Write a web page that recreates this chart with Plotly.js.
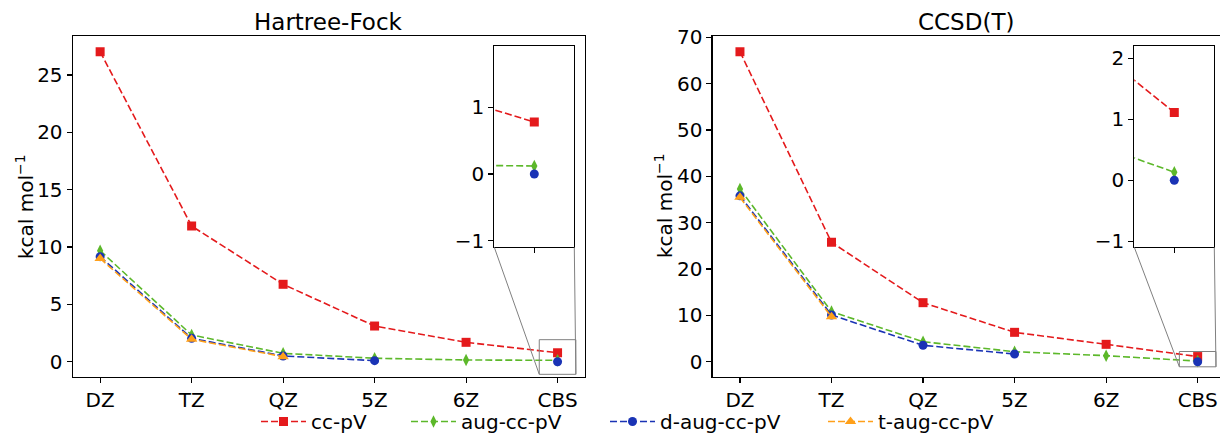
<!DOCTYPE html>
<html>
<head>
<meta charset="utf-8">
<script src="https://cdn.plot.ly/plotly-3.0.1.min.js"></script>
<style>
  html, body { margin: 0; padding: 0; background: #fff; }
  #chart { width: 1220px; height: 441px; }
</style>
</head>
<body>
<div id="chart"></div>
<script>
// Basis-set convergence of the error (kcal/mol) for two methods
const categories = ['DZ', 'TZ', 'QZ', '5Z', '6Z', 'CBS'];
const seriesNames = ['cc-pV', 'aug-cc-pV', 'd-aug-cc-pV', 't-aug-cc-pV'];

// Hartree-Fock
const hfCc   = [27.03, 11.83, 6.75, 3.11, 1.69, 0.78];
const hfAug  = [9.68, 2.33, 0.73, 0.30, 0.15, 0.12];
const hfDaug = [9.16, 2.04, 0.50, 0.09, null, 0.00];
const hfTaug = [9.00, 1.95, 0.44, null, null, null];

// CCSD(T)
const ccCc   = [66.90, 25.76, 12.74, 6.34, 3.75, 1.11];
const ccAug  = [37.27, 10.80, 4.32, 2.16, 1.30, 0.13];
const ccDaug = [35.80, 10.08, 3.54, 1.66, null, 0.00];
const ccTaug = [35.47, 9.70, null, null, null, null];

const panelTitles = ['Hartree-Fock', 'CCSD(T)'];
const yLabel = 'kcal mol<sup>−1</sup>';

const colors  = ['#e41a1c', '#5cb82a', '#1a33b5', '#ffa01a'];
const symbols = ['square', 'diamond-tall', 'circle', 'triangle-up'];
const msizes  = [9, 9, 9, 10];

const W = 1220, H = 441;
const FONT = 'DejaVu Sans, sans-serif';
const px = v => v / W;
const py = v => (H - v) / H;

// main axes and zoomed insets
const axes = {
  xaxis:  { domain: [px(72.7), px(585)],  range: [-0.3, 5.3] },
  yaxis:  { domain: [py(377), py(36)],    range: [-1.334, 28.40] },
  xaxis2: { domain: [px(712.5), 1],       range: [-0.3, 5.244] },
  yaxis2: { domain: [py(377), py(36)],    range: [-3.30, 70.29] },
  xaxis3: { domain: [px(494.3), px(574.3)],   range: [4.8, 5.2] },
  yaxis3: { domain: [py(247.3), py(46)],      range: [-1.1, 1.92] },
  xaxis4: { domain: [px(1134.3), px(1214.3)], range: [4.8, 5.2] },
  yaxis4: { domain: [py(247.3), py(46)],      range: [-1.1, 2.2] }
};

const panels = [
  { data: [hfCc, hfAug, hfDaug, hfTaug], main: ['x', 'y'],   inset: ['x3', 'y3'] },
  { data: [ccCc, ccAug, ccDaug, ccTaug], main: ['x2', 'y2'], inset: ['x4', 'y4'] }
];

const traces = [];
panels.forEach((p, pi) => {
  [p.main, p.inset].forEach((ax, ai) => {
    p.data.forEach((vals, si) => {
      const t = {
        type: 'scatter',
        mode: 'lines+markers',
        x: categories,
        y: vals,
        xaxis: ax[0],
        yaxis: ax[1],
        name: seriesNames[si],
        line: { color: colors[si], width: 1.6, dash: '7px,3px' },
        marker: { color: colors[si], symbol: symbols[si], size: msizes[si] },
        connectgaps: false,
        showlegend: pi === 0 && ai === 0,
        hoverinfo: 'skip'
      };
      if (pi === 0 && ai === 0) t.legend = si === 0 ? 'legend' : 'legend' + (si + 1);
      traces.push(t);
    });
  });
});

const tickFont = { family: FONT, size: 20, color: '#000' };
function axisBase(extra) {
  return Object.assign({
    type: 'category',
    categoryorder: 'array',
    categoryarray: categories,
    showgrid: false, zeroline: false,
    showline: true, linecolor: '#000', linewidth: 1.1,
    ticks: 'outside', ticklen: 5, tickwidth: 1.1, tickcolor: '#000',
    tickfont: tickFont, fixedrange: true, automargin: false
  }, extra);
}
function yBase(extra) {
  return Object.assign({
    showgrid: false, zeroline: false,
    showline: true, linecolor: '#000', linewidth: 1.1,
    ticks: 'outside', ticklen: 5, tickwidth: 1.1, tickcolor: '#000',
    tickfont: tickFont, fixedrange: true, automargin: false
  }, extra);
}

const layout = {
  width: W, height: H, autosize: false,
  margin: { l: 0, r: 0, t: 0, b: 0, autoexpand: false },
  paper_bgcolor: '#fff', plot_bgcolor: '#fff',
  font: { family: FONT, size: 20, color: '#000' },
  xaxis:  axisBase({ domain: axes.xaxis.domain,  range: axes.xaxis.range,  anchor: 'y',  mirror: true }),
  yaxis:  yBase({ domain: axes.yaxis.domain, range: axes.yaxis.range, anchor: 'x', mirror: true, tickvals: [0, 5, 10, 15, 20, 25] }),
  xaxis2: axisBase({ domain: axes.xaxis2.domain, range: axes.xaxis2.range, anchor: 'y2', mirror: true }),
  yaxis2: yBase({ domain: axes.yaxis2.domain, range: axes.yaxis2.range, anchor: 'x2', mirror: false, tickvals: [0, 10, 20, 30, 40, 50, 60, 70] }),
  xaxis3: axisBase({ domain: axes.xaxis3.domain, range: axes.xaxis3.range, anchor: 'y3', mirror: true, showticklabels: false, tickvals: ['CBS'] }),
  yaxis3: yBase({ domain: axes.yaxis3.domain, range: axes.yaxis3.range, anchor: 'x3', mirror: true, tickvals: [-1, 0, 1] }),
  xaxis4: axisBase({ domain: axes.xaxis4.domain, range: axes.xaxis4.range, anchor: 'y4', mirror: true, showticklabels: false, tickvals: ['CBS'] }),
  yaxis4: yBase({ domain: axes.yaxis4.domain, range: axes.yaxis4.range, anchor: 'x4', mirror: true, tickvals: [-1, 0, 1, 2] }),
  showlegend: true,
  annotations: [],
  shapes: []
};

// legend entries placed along the bottom edge
const legendStarts = [256, 406, 605, 823];
legendStarts.forEach((x0, i) => {
  const key = i === 0 ? 'legend' : 'legend' + (i + 1);
  layout[key] = {
    x: px(x0), y: 0, xanchor: 'left', yanchor: 'bottom',
    orientation: 'v', bgcolor: 'rgba(0,0,0,0)', borderwidth: 0,
    font: { family: FONT, size: 20, color: '#000' },
    itemwidth: 45
  };
});

// panel titles and y-axis labels
[['xaxis', 'yaxis'], ['xaxis2', 'yaxis2']].forEach((pair, i) => {
  const xd = layout[pair[0]].domain;
  layout.annotations.push({
    text: panelTitles[i], xref: 'paper', yref: 'paper',
    x: i === 0 ? (xd[0] + xd[1]) / 2 : px(966), y: py(22),
    xanchor: 'center', yanchor: 'middle', showarrow: false,
    font: { family: FONT, size: 23, color: '#000' }
  });
  layout.annotations.push({
    text: yLabel, xref: 'paper', yref: 'paper',
    x: i === 0 ? px(25) : px(664), y: py(206),
    xanchor: 'center', yanchor: 'middle', textangle: -90, showarrow: false,
    font: { family: FONT, size: 20, color: '#000' }
  });
});

// zoom rectangle and connector lines for each inset
function toPaper(axName, v) {
  const a = axes[axName];
  return a.domain[0] + (v - a.range[0]) / (a.range[1] - a.range[0]) * (a.domain[1] - a.domain[0]);
}
[['xaxis', 'yaxis', 'xaxis3', 'yaxis3', 'x', 'y'], ['xaxis2', 'yaxis2', 'xaxis4', 'yaxis4', 'x2', 'y2']].forEach(s => {
  const [mx, my, ix, iy, xr, yr] = s;
  const xr0 = axes[ix].range[0], xr1 = axes[ix].range[1];
  const yr0 = axes[iy].range[0], yr1 = axes[iy].range[1];
  const grey = { color: '#808080', width: 1 };
  layout.shapes.push({ type: 'rect', xref: xr, yref: yr, x0: xr0, x1: xr1, y0: yr0, y1: yr1, line: grey });
  // lower-left and lower-right corners
  layout.shapes.push({ type: 'line', xref: 'paper', yref: 'paper',
    x0: axes[ix].domain[0], y0: axes[iy].domain[0],
    x1: toPaper(mx, xr0), y1: toPaper(my, yr0), line: grey });
  layout.shapes.push({ type: 'line', xref: 'paper', yref: 'paper',
    x0: axes[ix].domain[1], y0: axes[iy].domain[0],
    x1: toPaper(mx, xr1), y1: toPaper(my, yr0), line: grey });
});

Plotly.newPlot('chart', traces, layout, { displayModeBar: false, staticPlot: true });
</script>
</body>
</html>
